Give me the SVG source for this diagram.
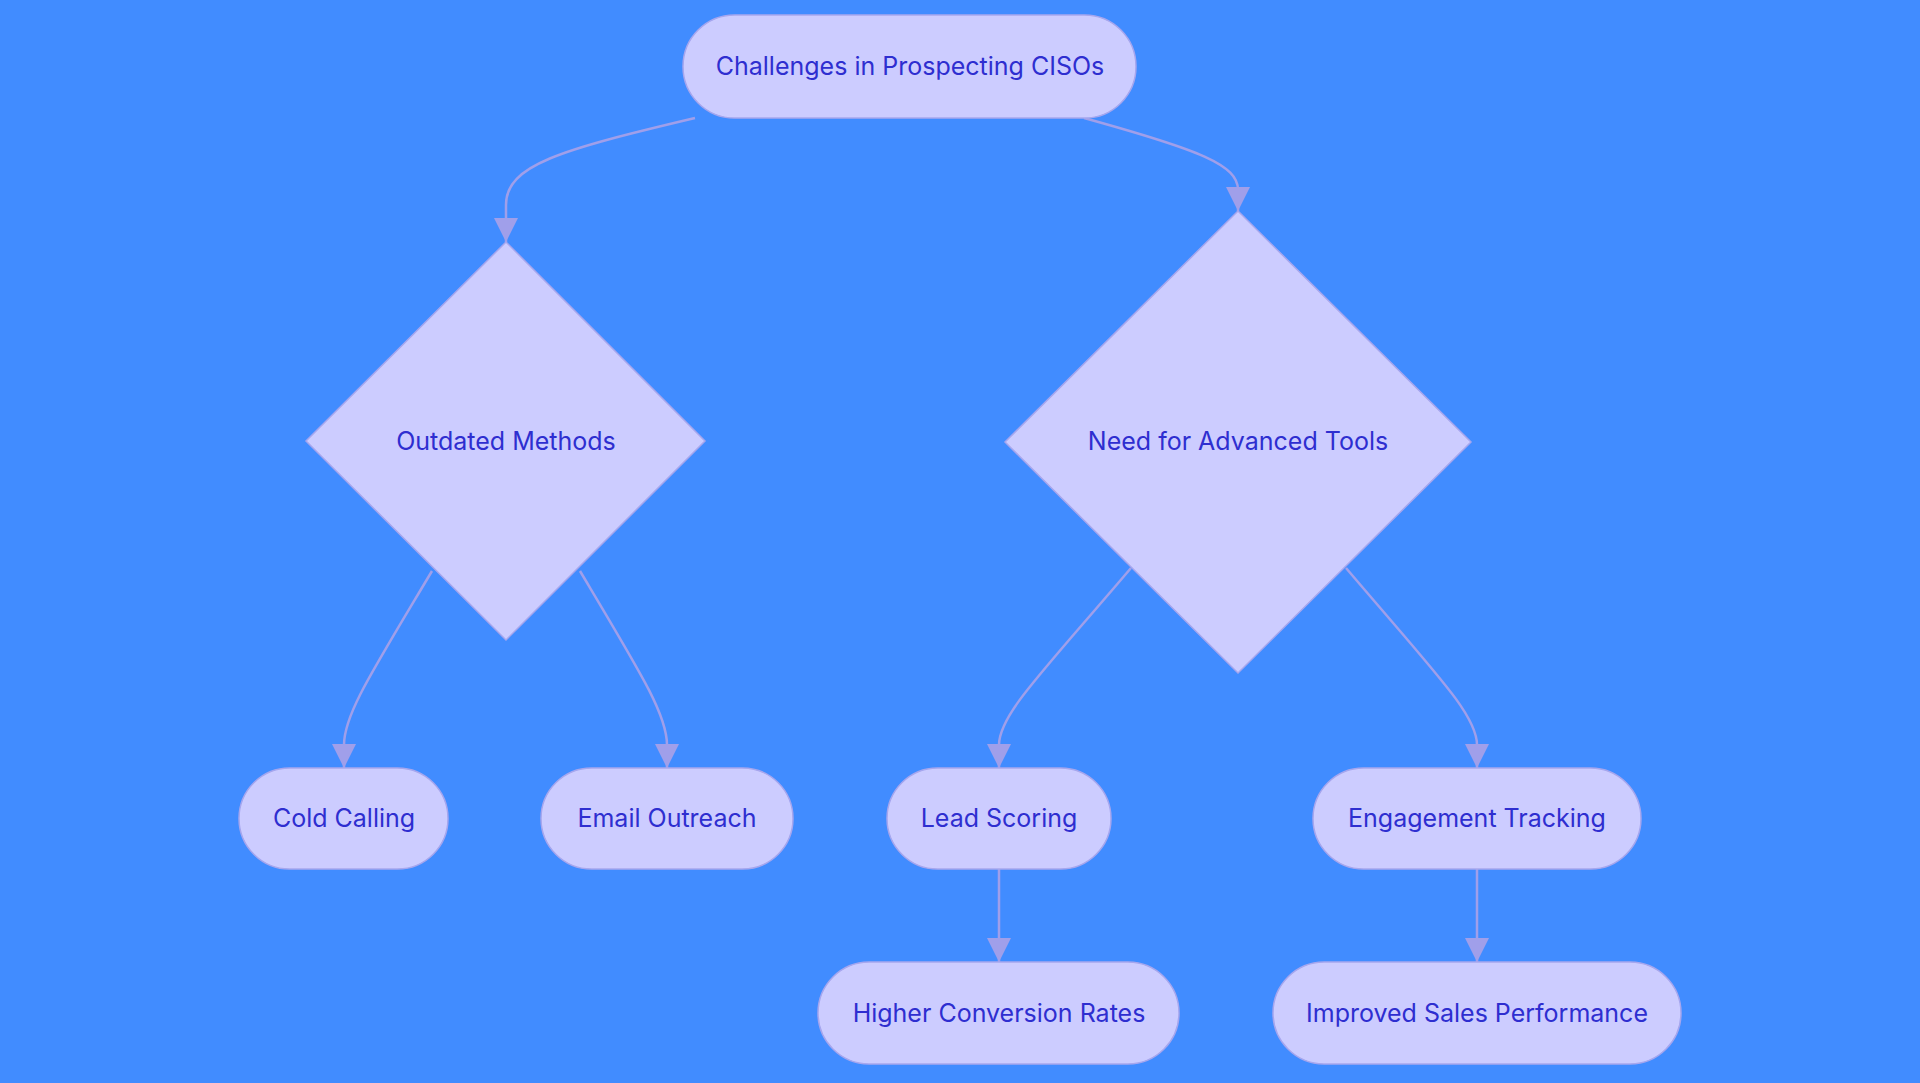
<svg xmlns="http://www.w3.org/2000/svg" width="1920" height="1083" viewBox="0 0 1920 1083">
<style>
.n{fill:#CCCCFF;stroke:#A6A6EE;stroke-width:1.5}
.t{font-family:Inter,"Liberation Sans",sans-serif;font-size:25px;fill:#2E2ED0;text-anchor:middle;dominant-baseline:central}
.e{fill:none;stroke:#A09FEA;stroke-width:2.5;marker-end:url(#a)}
</style>
<defs><marker id="a" viewBox="0 0 10 10" refX="9" refY="5" markerWidth="8" markerHeight="8" markerUnits="userSpaceOnUse" orient="auto"><path d="M0,0L10,5L0,10z" fill="#A09FEA" transform="scale(1)"/></marker>
<marker id="b" viewBox="0 0 10 10" refX="10" refY="5" markerWidth="24" markerHeight="24" markerUnits="userSpaceOnUse" orient="auto"><path d="M0,0L10,5L0,10z" fill="#A09FEA"/></marker></defs>
<rect width="1920" height="1083" fill="#418CFF"/>
<g id="edges" style="marker-end:url(#b)">
<path class="e" style="marker-end:url(#b)" d="M695,118 C560,150 506,165 506,205 L506,242"/>
<path class="e" style="marker-end:url(#b)" d="M1084,118 C1200,150 1238,165 1238,190 L1238,211"/>
<path class="e" style="marker-end:url(#b)" d="M432,571 C370,675 344,715 344,745 L344,768"/>
<path class="e" style="marker-end:url(#b)" d="M580,571 C642,675 667,715 667,745 L667,768"/>
<path class="e" style="marker-end:url(#b)" d="M1131,568 C1040,675 999,715 999,745 L999,768"/>
<path class="e" style="marker-end:url(#b)" d="M1346,568 C1437,675 1477,715 1477,745 L1477,768"/>
<path class="e" style="marker-end:url(#b)" d="M999,869 L999,962"/>
<path class="e" style="marker-end:url(#b)" d="M1477,869 L1477,962"/>
</g>
<g id="n1"><rect class="n" x="683" y="15" width="453" height="103" rx="51.5"/><text class="t" x="910" y="66">Challenges in Prospecting CISOs</text></g>
<g id="n2"><polygon class="n" points="506,242 705,441 506,640 306,441"/><text class="t" x="506" y="441">Outdated Methods</text></g>
<g id="n3"><polygon class="n" points="1238,211 1471,442 1238,673 1005,442"/><text class="t" x="1238" y="441">Need for Advanced Tools</text></g>
<g id="n4"><rect class="n" x="239" y="768" width="209" height="101" rx="50.5"/><text class="t" x="344" y="818">Cold Calling</text></g>
<g id="n5"><rect class="n" x="541" y="768" width="252" height="101" rx="50.5"/><text class="t" x="667" y="818">Email Outreach</text></g>
<g id="n6"><rect class="n" x="887" y="768" width="224" height="101" rx="50.5"/><text class="t" x="999" y="818">Lead Scoring</text></g>
<g id="n7"><rect class="n" x="1313" y="768" width="328" height="101" rx="50.5"/><text class="t" x="1477" y="818">Engagement Tracking</text></g>
<g id="n8"><rect class="n" x="818" y="962" width="361" height="102" rx="51"/><text class="t" x="999" y="1013">Higher Conversion Rates</text></g>
<g id="n9"><rect class="n" x="1273" y="962" width="408" height="102" rx="51"/><text class="t" x="1477" y="1013">Improved Sales Performance</text></g>
</svg>
